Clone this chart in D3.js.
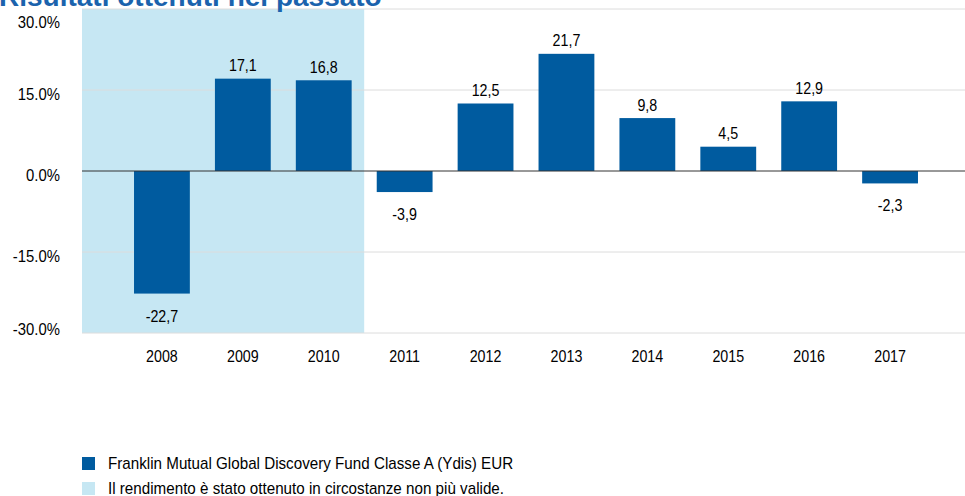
<!DOCTYPE html>
<html>
<head>
<meta charset="utf-8">
<script src="https://cdn.jsdelivr.net/npm/d3@7"></script>
<style>
  body { margin: 0; background: #fff; }
  svg { display: block; font-family: "Liberation Sans", Arial, sans-serif; }
</style>
</head>
<body>
<svg id="drawing_region"></svg>
<script>
// chart data
const years = ['2008', '2009', '2010', '2011', '2012', '2013', '2014', '2015', '2016', '2017'];
const fundValues = [-22.7, 17.1, 16.8, -3.9, 12.5, 21.7, 9.8, 4.5, 12.9, -2.3];
const shadedYears = ['2008', '2009', '2010'];
const yTicks = [30, 15, 0, -15, -30];
const legendLabels = [
    'Franklin Mutual Global Discovery Fund Classe A (Ydis) EUR',
    'Il rendimento è stato ottenuto in circostanze non più valide.'
];
const titleText = 'Risultati ottenuti nel passato';

const width = 965, height = 496;
const margin = {top: 9, right: 0, bottom: 163, left: 82};
const fontSize = 17;
// the original uses a narrow face, so squeeze the text a bit
const narrow = 0.84;

const svg = d3.select('#drawing_region')
    .attr('width', width)
    .attr('height', height);

const barColor = '#005b9f';
const shadeColor = '#c6e7f3';
const fmt = v => d3.format('.1f')(v).replace('\u2212', '-');

const xscale = d3.scaleBand()
    .domain(years)
    .range([margin.left, 970])
    .paddingInner(0.31)
    .paddingOuter(0.643);

const yscale = d3.scaleLinear()
    .domain([-30, 30])
    .range([height - margin.bottom, margin.top]);

// shaded period
const step = xscale.step();
const shadeEnd = xscale(shadedYears[shadedYears.length - 1]) + xscale.bandwidth() + step * xscale.paddingInner() / 2;
svg.append('rect')
    .attr('x', margin.left)
    .attr('y', yscale(30))
    .attr('width', shadeEnd - margin.left)
    .attr('height', yscale(-30) - yscale(30))
    .attr('fill', shadeColor);

// gridlines
svg.append('g').selectAll('line')
    .data(yTicks.filter(d => d !== 0))
    .join('line')
    .attr('x1', margin.left)
    .attr('x2', width)
    .attr('y1', d => yscale(d))
    .attr('y2', d => yscale(d))
    .attr('stroke', '#dcdcdc')
    .attr('stroke-width', 1);

// y labels, kept inside the plot at the ends
svg.append('g').selectAll('text')
    .data(yTicks)
    .join('text')
    .attr('transform', d => `translate(60, ${Math.min(Math.max(yscale(d) + 10, 28), 335)}) scale(0.875, 1)`)
    .attr('text-anchor', 'end')
    .attr('font-size', fontSize)
    .attr('fill', '#000')
    .text(d => fmt(d) + '%');

// bars
svg.append('g').selectAll('rect')
    .data(fundValues)
    .join('rect')
    .attr('x', (d, i) => xscale(years[i]))
    .attr('y', d => yscale(Math.max(0, d)))
    .attr('width', xscale.bandwidth())
    .attr('height', d => Math.abs(yscale(d) - yscale(0)))
    .attr('fill', barColor);

// zero line
svg.append('line')
    .attr('x1', margin.left)
    .attr('x2', width)
    .attr('y1', yscale(0))
    .attr('y2', yscale(0))
    .attr('stroke', '#333')
    .attr('stroke-width', 1);

// value labels
svg.append('g').selectAll('text')
    .data(fundValues)
    .join('text')
    .attr('transform', (d, i) => {
        const x = xscale(years[i]) + xscale.bandwidth() / 2;
        const y = d >= 0 ? yscale(d) - 7.5 : yscale(d) + 28;
        return `translate(${x}, ${y}) scale(${narrow}, 1)`;
    })
    .attr('text-anchor', 'middle')
    .attr('font-size', fontSize)
    .attr('fill', '#000')
    .text(d => fmt(d).replace('.', ','));

// x labels
svg.append('g').selectAll('text')
    .data(years)
    .join('text')
    .attr('transform', d => `translate(${xscale(d) + xscale.bandwidth() / 2}, 362) scale(${narrow}, 1)`)
    .attr('text-anchor', 'middle')
    .attr('font-size', fontSize)
    .attr('fill', '#000')
    .text(d => d);

// title (cut at the top)
svg.append('text')
    .attr('x', -1)
    .attr('y', 6)
    .attr('font-size', 28)
    .attr('font-weight', 'bold')
    .attr('fill', '#1b63ad')
    .text(titleText);

// legend
const legend = svg.append('g').selectAll('g')
    .data(legendLabels)
    .join('g')
    .attr('transform', (d, i) => `translate(82, ${457 + i * 25})`);

legend.append('rect')
    .attr('width', 13)
    .attr('height', 13)
    .attr('fill', (d, i) => i === 0 ? barColor : shadeColor);

legend.append('text')
    .attr('transform', 'translate(26, 11.5) scale(0.95, 1)')
    .attr('font-size', 16)
    .attr('fill', '#000')
    .text(d => d);
</script>
</body>
</html>
